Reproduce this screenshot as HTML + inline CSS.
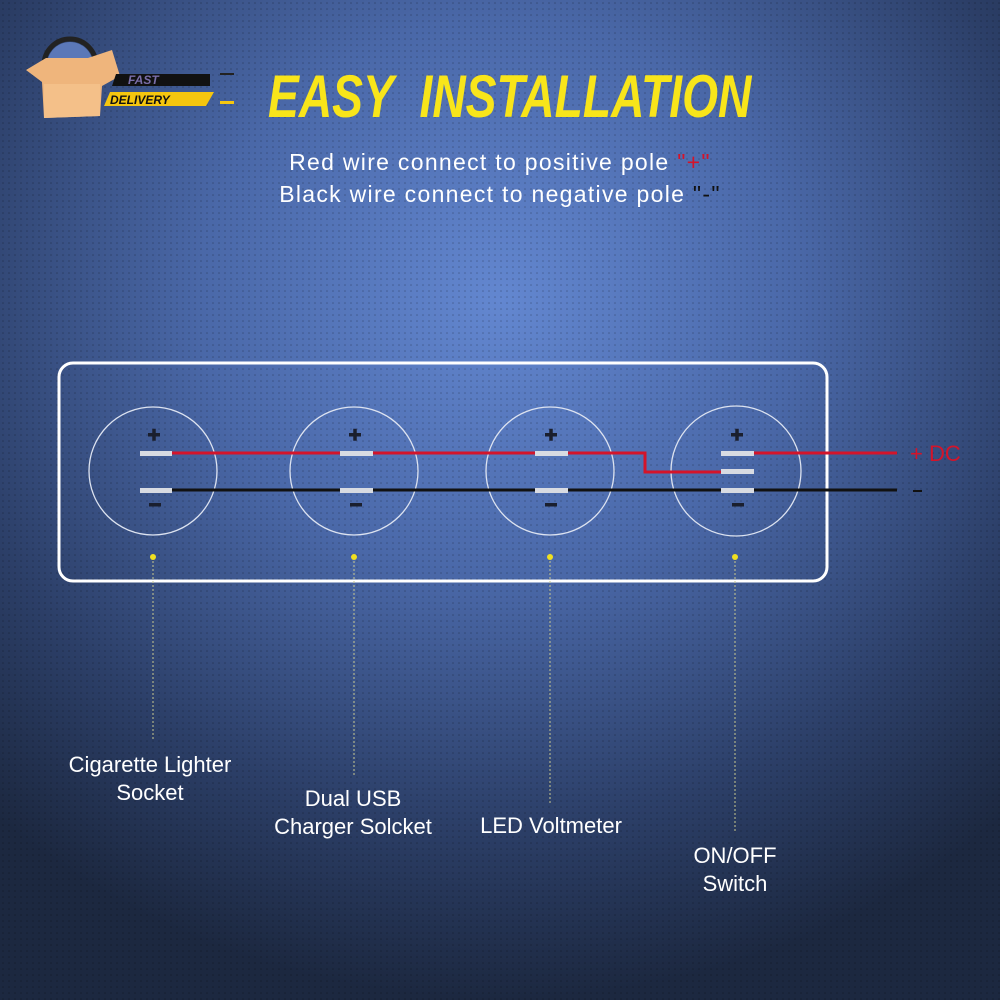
<!DOCTYPE html>
<html><head><style>
body{margin:0;width:1000px;height:1000px;overflow:hidden;background:radial-gradient(ellipse 75% 70% at 50% 30%,#6387d0 0%,#4a68a8 40%,#2c3f68 75%,#1c2840 100%);font-family:"Liberation Sans",sans-serif;position:relative}
.t{position:absolute;color:#fff;text-align:center}
</style></head><body>
<svg width="1000" height="1000" style="position:absolute;left:0;top:0">
<defs><pattern id="d" width="6" height="6" patternUnits="userSpaceOnUse"><circle cx="3" cy="3" r="0.8" fill="#000" opacity="0.25"/></pattern></defs>
<rect width="1000" height="1000" fill="url(#d)"/>
<g>
<circle cx="70" cy="65" r="26" fill="none" stroke="#222" stroke-width="5"/>
<circle cx="70" cy="65" r="23" fill="#5b78b8"/>
<polygon points="26,70 46,58 88,58 112,50 120,76 102,86 100,116 44,118 42,82" fill="#efb57c"/>
<polygon points="44,84 100,84 100,116 44,118" fill="#f4c089"/>
<polygon points="116,74 210,74 210,86 112,86" fill="#111"/>
<text x="128" y="84" font-size="12" font-weight="bold" font-style="italic" fill="#7a6ea8">FAST</text>
<polygon points="110,92 214,92 206,106 104,106" fill="#f5c60f"/>
<text x="110" y="104" font-size="12" font-weight="bold" font-style="italic" fill="#111">DELIVERY</text>
<rect x="220" y="73" width="14" height="2" fill="#222"/>
<rect x="220" y="101" width="14" height="3" fill="#f5c60f"/>
</g>
<rect x="59" y="363" width="768" height="218" rx="14" fill="none" stroke="#fff" stroke-width="3"/>
<g fill="none" stroke="#dde3f0" stroke-width="1.3">
<circle cx="153" cy="471" r="64"/><circle cx="354" cy="471" r="64"/><circle cx="550" cy="471" r="64"/><circle cx="736" cy="471" r="65"/>
</g>
<polyline points="172,453 645,453 645,472 721,472" fill="none" stroke="#d4142a" stroke-width="3"/>
<line x1="753" y1="453" x2="897" y2="453" stroke="#d4142a" stroke-width="3"/>
<line x1="172" y1="490" x2="897" y2="490" stroke="#111" stroke-width="3"/>
<g fill="#d8dbe2">
<rect x="140" y="451" width="32" height="5"/><rect x="140" y="488" width="32" height="5"/>
<rect x="340" y="451" width="33" height="5"/><rect x="340" y="488" width="33" height="5"/>
<rect x="535" y="451" width="33" height="5"/><rect x="535" y="488" width="33" height="5"/>
<rect x="721" y="451" width="33" height="5"/><rect x="721" y="469" width="33" height="5"/><rect x="721" y="488" width="33" height="5"/>
</g>
<g fill="#1a1f2e">
<rect x="148" y="433" width="12" height="3.5"/><rect x="152.25" y="428.75" width="3.5" height="12"/>
<rect x="349" y="433" width="12" height="3.5"/><rect x="353.25" y="428.75" width="3.5" height="12"/>
<rect x="545" y="433" width="12" height="3.5"/><rect x="549.25" y="428.75" width="3.5" height="12"/>
<rect x="731" y="433" width="12" height="3.5"/><rect x="735.25" y="428.75" width="3.5" height="12"/>
<rect x="149" y="503" width="12" height="3.5"/><rect x="350" y="503" width="12" height="3.5"/><rect x="545" y="503" width="12" height="3.5"/><rect x="732" y="503" width="12" height="3.5"/>
</g>
<text x="910" y="461" font-size="22" fill="#d4142a">+ DC</text>
<rect x="913" y="490" width="9" height="2" fill="#111"/>
<g stroke="#c8c890" stroke-width="1" stroke-dasharray="2,2">
<line x1="153" y1="557" x2="153" y2="740"/><line x1="354" y1="557" x2="354" y2="775"/><line x1="550" y1="557" x2="550" y2="805"/><line x1="735" y1="557" x2="735" y2="832"/>
</g>
<g fill="#f0e020"><circle cx="153" cy="557" r="3"/><circle cx="354" cy="557" r="3"/><circle cx="550" cy="557" r="3"/><circle cx="735" cy="557" r="3"/></g>
</svg>
<div class="t" style="left:268px;top:62px;font-size:60px;font-weight:bold;font-style:italic;color:#f8e51a;white-space:nowrap;transform-origin:0 0;transform:scaleX(0.77)">EASY&nbsp; INSTALLATION</div>
<div class="t" style="left:240px;top:146px;width:520px;font-size:23px;line-height:32px;letter-spacing:1.3px;white-space:nowrap">Red wire connect to positive pole <span style="color:#d4142a">"+"</span><br>Black wire connect to negative pole <span style="color:#111">"-"</span></div>
<div class="t" style="left:40px;top:751px;width:220px;font-size:22px;line-height:28px">Cigarette Lighter<br>Socket</div>
<div class="t" style="left:243px;top:785px;width:220px;font-size:22px;line-height:28px">Dual USB<br>Charger Solcket</div>
<div class="t" style="left:441px;top:812px;width:220px;font-size:22px;line-height:28px">LED Voltmeter</div>
<div class="t" style="left:625px;top:842px;width:220px;font-size:22px;line-height:28px">ON/OFF<br>Switch</div>
</body></html>
